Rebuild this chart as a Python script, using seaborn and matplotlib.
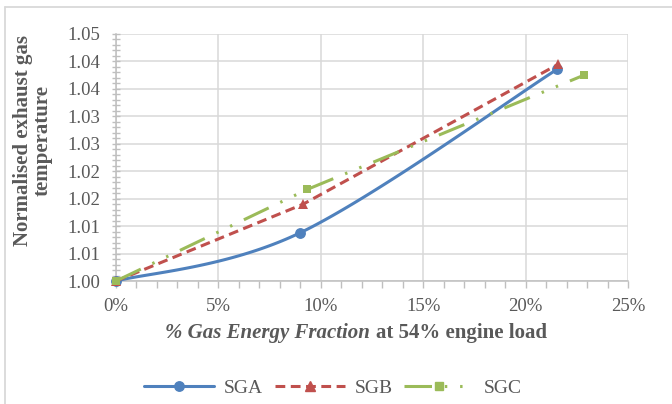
import numpy as np
import pandas as pd
import seaborn as sns
import matplotlib
matplotlib.use("Agg")
import matplotlib.pyplot as plt
from matplotlib.lines import Line2D
from matplotlib.ticker import MultipleLocator, FixedLocator
from matplotlib.offsetbox import TextArea, HPacker, AnchoredOffsetbox

# ---------------- data ----------------
series_names = ["SGA", "SGB", "SGC"]
sga_x = [0.0, 9.0, 21.55]
sga_y = [1.0000, 1.0088, 1.0386]
sgb_x = [0.0, 9.14, 21.6]
sgb_y = [1.0000, 1.0140, 1.0395]
sgc_x = [0.0, 9.35, 22.85]
sgc_y = [1.0000, 1.0167, 1.0375]
x_ticks = [0, 5, 10, 15, 20, 25]
x_tick_labels = ["0%", "5%", "10%", "15%", "20%", "25%"]
y_ticks = [1.000, 1.005, 1.010, 1.015, 1.020, 1.025, 1.030, 1.035, 1.040, 1.045]
y_tick_labels = ["1.00", "1.01", "1.01", "1.02", "1.02", "1.03", "1.03", "1.04", "1.04", "1.05"]

colors = {"SGA": "#4F81BD", "SGB": "#C0504D", "SGC": "#9BBB59"}

sns.set_theme(style="white")
plt.rcParams["font.family"] = ["Liberation Serif", "DejaVu Serif"]

GRAY = "#595959"
fig = plt.figure(figsize=(6.72, 4.04), dpi=100)
ax = fig.add_axes([116 / 672, 1 - 281 / 404, (628 - 116) / 672, (281 - 34) / 404])


def smooth(xs, ys, n=60):
    """Excel-style smoothed line (cubic Bezier through the points)."""
    P = np.column_stack([xs, ys]).astype(float)
    m = len(P)
    out = []
    t = np.linspace(0, 1, n)[:, None]
    for i in range(m - 1):
        p0, p3 = P[i], P[i + 1]
        pm = P[max(i - 1, 0)]
        pp = P[min(i + 2, m - 1)]
        c1 = p0 + (p3 - pm) / 6.0
        c2 = p3 - (pp - p0) / 6.0
        seg = ((1 - t) ** 3) * p0 + 3 * ((1 - t) ** 2) * t * c1 + 3 * (1 - t) * t ** 2 * c2 + t ** 3 * p3
        out.append(seg if i == 0 else seg[1:])
    return np.vstack(out)


lw = 2.2
# SGA (smoothed solid)
curve = smooth(sga_x, sga_y)
df_curve = pd.DataFrame({"x": curve[:, 0], "y": curve[:, 1]})
sns.lineplot(data=df_curve, x="x", y="y", sort=False, ax=ax, color=colors["SGA"],
             lw=lw, solid_capstyle="round", zorder=3, clip_on=False)
ax.plot(sga_x, sga_y, ls="none", marker="o", ms=6.8, color=colors["SGA"], zorder=4, clip_on=False)

# SGB (dashed)
df_b = pd.DataFrame({"x": sgb_x, "y": sgb_y})
sns.lineplot(data=df_b, x="x", y="y", ax=ax, color=colors["SGB"], lw=lw,
             marker="^", markersize=7, markeredgewidth=0, zorder=5, clip_on=False)
ax.lines[-1].set_dashes((3.2, 1.8))

# SGC (long dash dot dot)
df_c = pd.DataFrame({"x": sgc_x, "y": sgc_y})
sns.lineplot(data=df_c, x="x", y="y", ax=ax, color=colors["SGC"], lw=lw,
             marker="s", markersize=5.8, markeredgewidth=0, zorder=6, clip_on=False)
ax.lines[-1].set_dashes((9, 4.2, 0.8, 4.2, 0.8, 4.2))

# axes styling
ax.set_xlim(0, 25)
ax.set_ylim(1.000, 1.045)
ax.xaxis.set_major_locator(FixedLocator(x_ticks))
ax.set_xticklabels(x_tick_labels)
ax.yaxis.set_major_locator(FixedLocator(y_ticks))
ax.set_yticklabels(y_tick_labels)
ax.xaxis.set_minor_locator(MultipleLocator(1))
ax.yaxis.set_minor_locator(MultipleLocator(0.001))
ax.grid(True, which="major", color="#D9D9D9", lw=1.1)
ax.set_axisbelow(True)
for s in ["top", "right"]:
    ax.spines[s].set_visible(False)
for s in ["left", "bottom"]:
    ax.spines[s].set_color("#BFBFBF")
    ax.spines[s].set_linewidth(1.1)
ax.tick_params(axis="x", which="both", direction="out", length=5, width=1, color="#BFBFBF",
               labelsize=13.5, labelcolor=GRAY, pad=7, bottom=True)
ax.tick_params(axis="y", which="both", direction="inout", length=6, width=1, color="#BFBFBF",
               labelsize=13.5, labelcolor=GRAY, pad=8, left=True)
ax.set_xlabel("")
ax.set_ylabel("")

# y label
fig.text(33 / 672, 1 - 141 / 404, "Normalised exhaust gas\ntemperature", rotation=90,
         ha="center", va="center", multialignment="center", fontsize=15,
         fontweight="bold", color=GRAY, linespacing=1.0)

# x label with mixed style
ta1 = TextArea("% Gas Energy Fraction", textprops=dict(fontsize=15, fontweight="bold",
                                                     fontstyle="italic", color=GRAY))
ta2 = TextArea("at 54% engine load", textprops=dict(fontsize=15, fontweight="bold", color=GRAY))
box = HPacker(children=[ta1, ta2], align="baseline", pad=0, sep=4)
anch = AnchoredOffsetbox(loc="center", child=box, frameon=False, pad=0, borderpad=0,
                         bbox_to_anchor=(356 / 672, 1 - 333 / 404),
                         bbox_transform=fig.transFigure)
fig.add_artist(anch)

# legend
handles = [
    Line2D([], [], color=colors["SGA"], lw=lw, marker="o", ms=6.8),
    Line2D([], [], color=colors["SGB"], lw=lw, marker="^", ms=7, dashes=(3.2, 1.8)),
    Line2D([], [], color=colors["SGC"], lw=lw, marker="s", ms=5.8, dashes=(9, 4.2, 0.8, 4.2, 0.8, 4.2)),
]
fig.legend(handles, series_names, loc="center", bbox_to_anchor=(333 / 672, 1 - 388 / 404),
           ncol=3, frameon=False, fontsize=14, labelcolor=GRAY, handlelength=3.6,
           handletextpad=0.5, columnspacing=0.6, numpoints=1)

# chart-area border (left & top visible)
fig.add_artist(Line2D([4.5 / 672, 4.5 / 672], [0, 1 - 6.5 / 404], transform=fig.transFigure,
                      color="#D9D9D9", lw=1.3))
fig.add_artist(Line2D([4.5 / 672, 1], [1 - 6.5 / 404, 1 - 6.5 / 404], transform=fig.transFigure,
                      color="#D9D9D9", lw=1.3))

fig.savefig("out.png", dpi=100)
